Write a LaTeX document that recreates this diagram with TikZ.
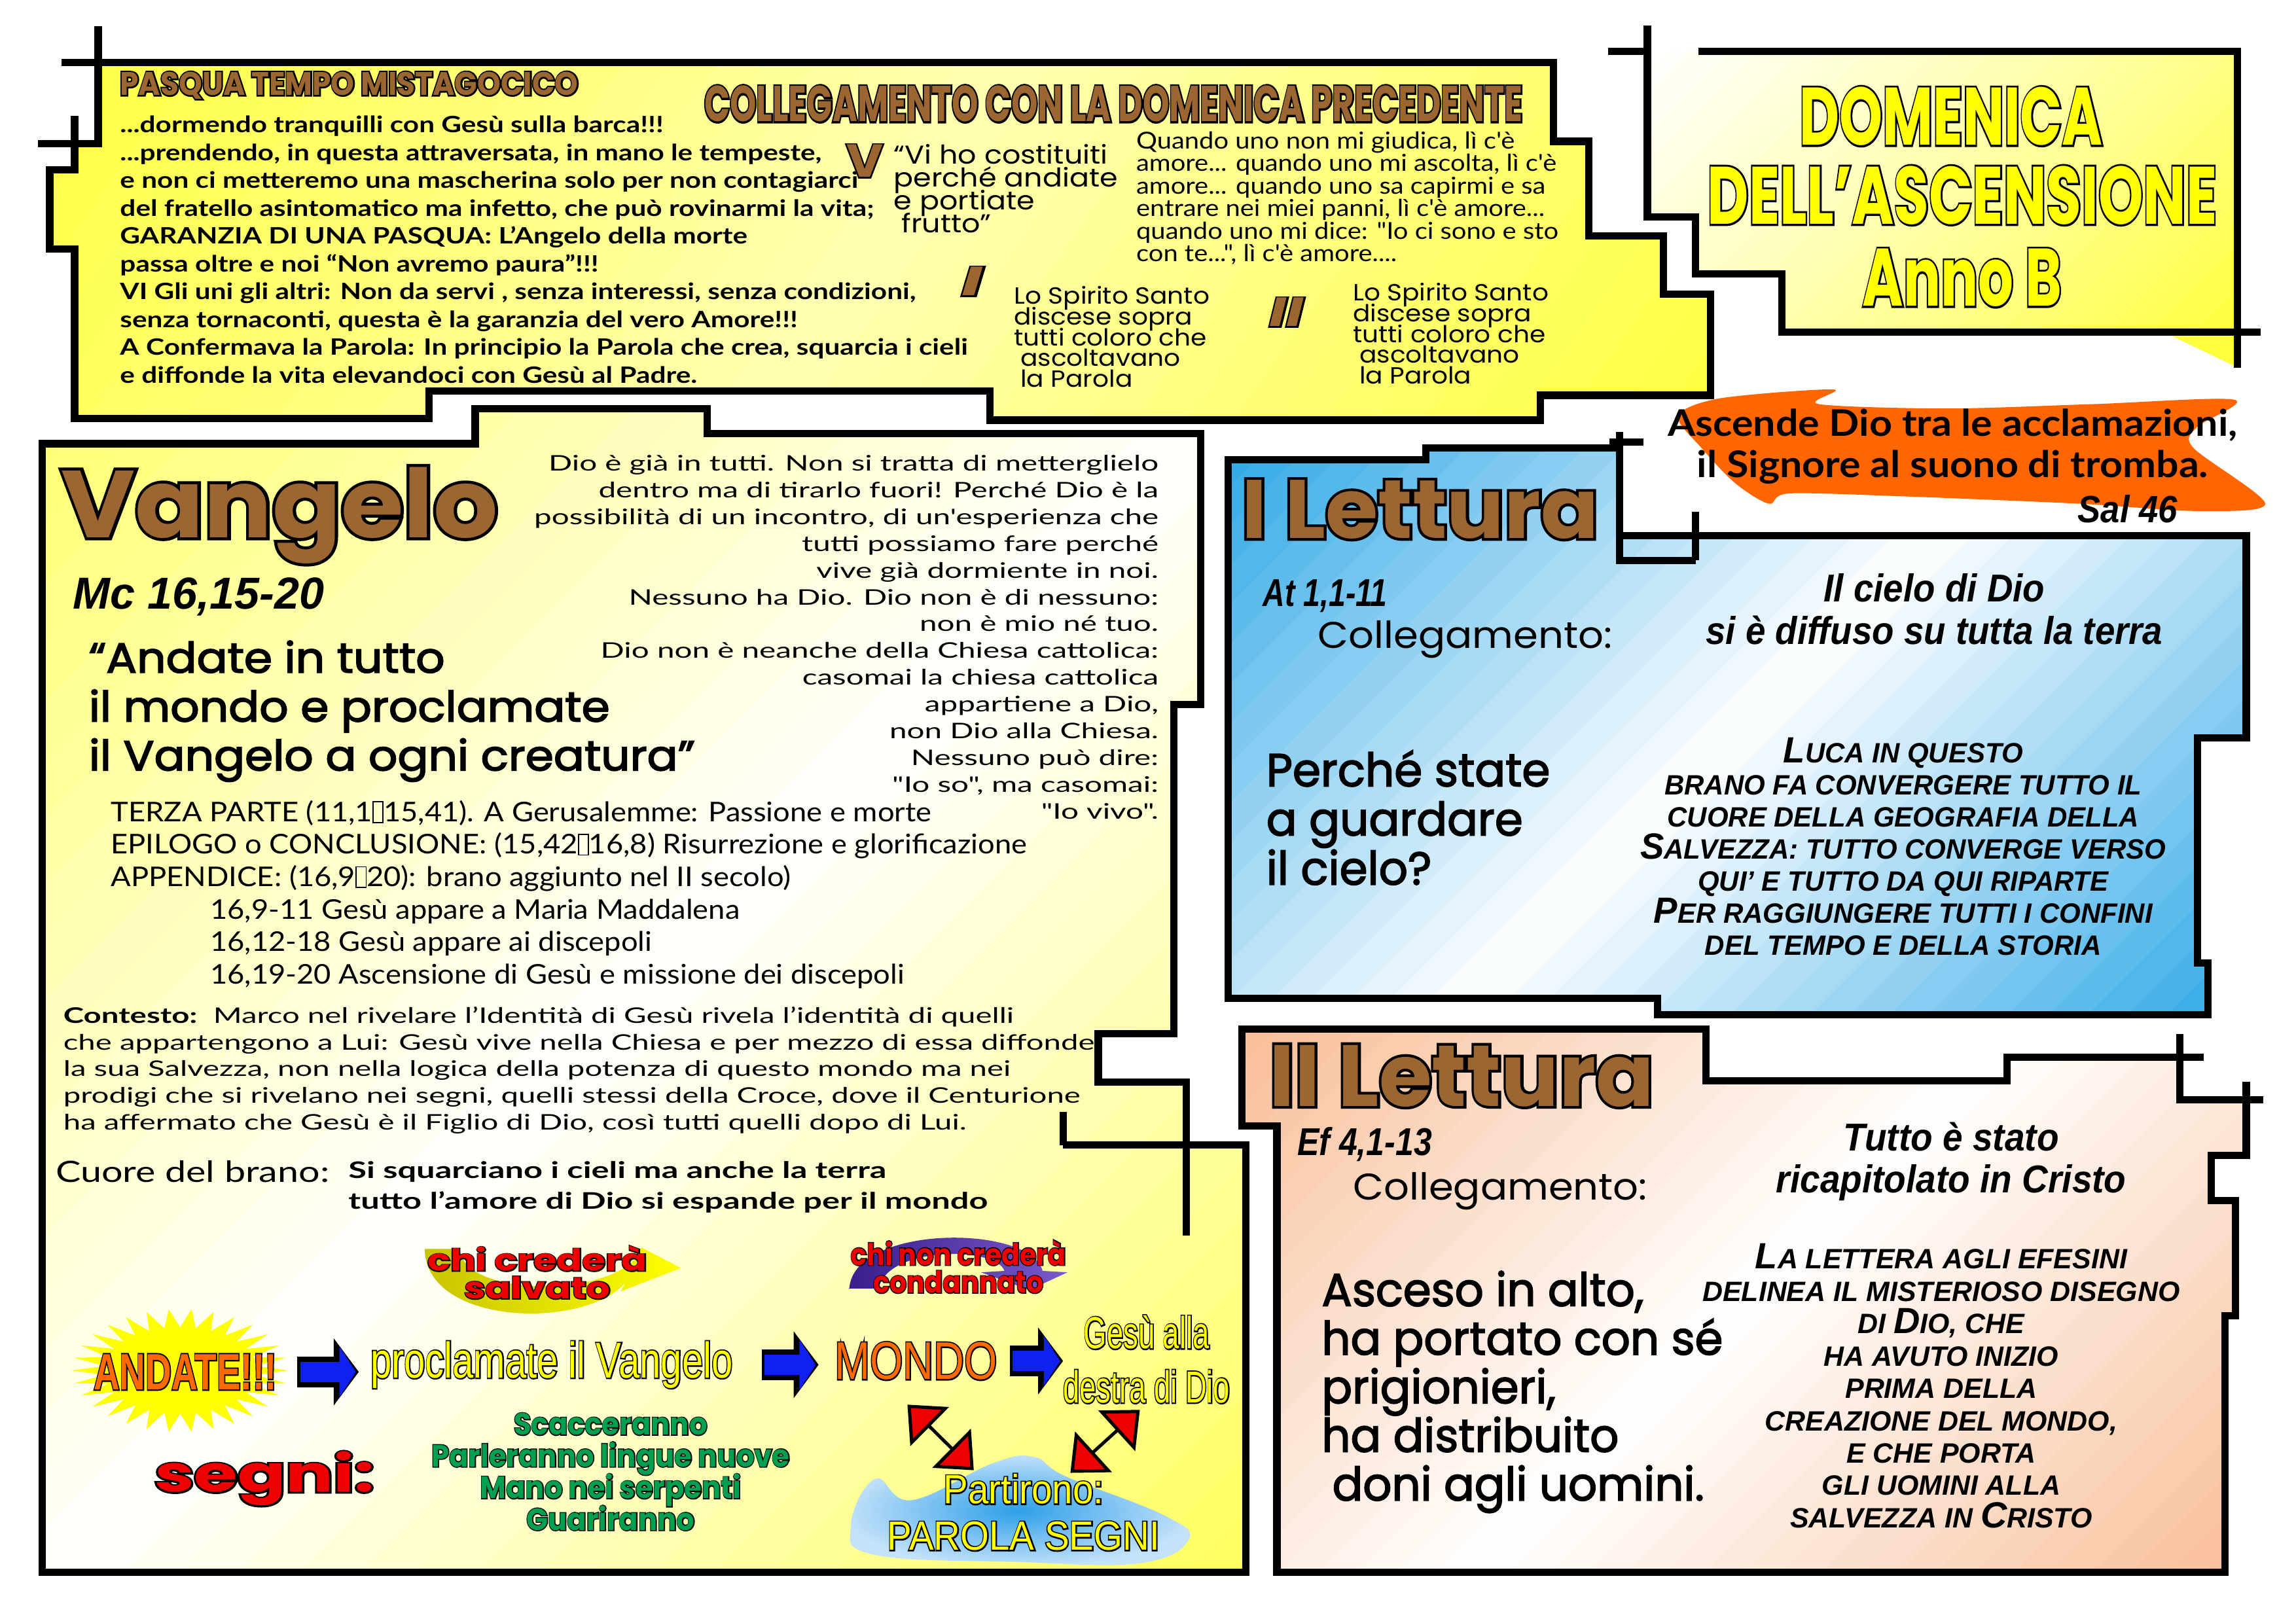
\documentclass[tikz,border=0pt]{standalone}
\usepackage{fontspec}
\usepackage{graphicx}
\usetikzlibrary{arrows.meta}
\setmainfont{Lato}
\newfontfamily\fPop{Poppins}
\newfontfamily\fLato{Lato}
\newfontfamily\fLib{Liberation Sans}
\definecolor{brownH}{HTML}{9C6633}
\definecolor{orangeB}{HTML}{FF6600}
\definecolor{orangeT}{HTML}{FF6A00}
\definecolor{yelT}{HTML}{FFFF00}
\definecolor{redT}{HTML}{EE0000}
\definecolor{greenT}{HTML}{00A050}
\definecolor{blueA}{HTML}{1020F0}
\definecolor{skyB}{HTML}{2FA8E6}
\definecolor{peach}{HTML}{F8BE98}
\definecolor{yelBox}{HTML}{FFFF40}
\definecolor{purpD}{HTML}{3A1E8C}
\definecolor{purpL}{HTML}{7A5ACB}
\definecolor{oliveY}{HTML}{C8C400}
\definecolor{blobC}{HTML}{2E9FE8}
\definecolor{blobO}{HTML}{C4E2FA}
\colorlet{yelMid}{yelBox!40!white}
\colorlet{yelTitleMid}{yelBox!45!white}
\colorlet{yelVA}{yelBox!75!white}
\colorlet{yelVB}{yelBox!85!white}
\colorlet{plainW}{white}
\newlength\U \setlength\U{0.189413mm}
\newlength\fitlen
\newlength\fittarget
\newsavebox\olbox
\newsavebox\fitbox
% outlined text: stroked copy (text render mode 2) under a filled copy
\newcommand\OLT[4][1.2]{\setbox\olbox\hbox{#4}\leavevmode\rlap{\color{#2}\special{pdf:literal direct 2 Tr #1 w}\usebox\olbox\special{pdf:literal direct 0 Tr}}{\color{#3}\usebox\olbox}}
\newcommand\FB[1]{\special{pdf:literal direct 2 Tr 0.4 w}#1\special{pdf:literal direct 0 Tr}}
\newcommand\FitBlk[3]{\setbox\fitbox\hbox{#2}\setlength\fitlen{\wd\fitbox}\setlength\fittarget{#1\U}\pgfmathsetmacro\fitsx{\fittarget/\fitlen}\scalebox{\fitsx}[1]{#3}}
\newcommand\FitOne[2]{\FitBlk{#1}{#2}{#2}}
\newcommand\LinesL[2]{\vtop{\baselineskip=#1\relax\lineskiplimit=-\maxdimen\lineskip=0pt\halign{##\hfil\cr#2\crcr}}}
\newcommand\LinesR[2]{\vtop{\baselineskip=#1\relax\lineskiplimit=-\maxdimen\lineskip=0pt\halign{\hfil##\cr#2\crcr}}}
\newcommand\LinesC[2]{\vtop{\baselineskip=#1\relax\lineskiplimit=-\maxdimen\lineskip=0pt\halign{\hfil##\hfil\cr#2\crcr}}}
\newcommand\BigC[1]{{\fontsize{13.4}{14}\selectfont#1}}
\newcommand\MissGlyph{\raisebox{-0.02em}{\setlength\fboxsep{0pt}\setlength\fboxrule{0.4pt}\fbox{\rule{0pt}{0.72em}\hspace{0.3em}}}}
% diagonal gradient inside a clip path: #1 path, #2-#5 bbox, #6 angle, #7 end colour, #8 middle colour, #9 end colour
\newcommand\GradBox[9]{\begin{scope}\clip #1;
\pgfmathsetmacro\gdx{cos(#6)}\pgfmathsetmacro\gdy{sin(#6)}\pgfmathsetmacro\gL{(#4-#2)*\gdx+(#5-#3)*\gdy}%
\foreach \k in {0,...,39}{\pgfmathsetmacro\ua{\k/40*\gL}\pgfmathsetmacro\ub{(\k+1.3)/40*\gL}\pgfmathsetmacro\uc{(\k+0.5)/40}%
\pgfmathsetmacro\pa{100*(1-2*\uc)}\pgfmathsetmacro\pb{100*(2*\uc-1)}%
\ifdim\uc pt<0.5pt\edef\gcol{#7!\pa!#8}\else\edef\gcol{#9!\pb!#8}\fi
\fill[color=\gcol] ({#2+\ua*\gdx-2000*\gdy},{#3+\ua*\gdy+2000*\gdx}) -- ({#2+\ua*\gdx+2000*\gdy},{#3+\ua*\gdy-2000*\gdx}) -- ({#2+\ub*\gdx+2000*\gdy},{#3+\ub*\gdy-2000*\gdx}) -- ({#2+\ub*\gdx-2000*\gdy},{#3+\ub*\gdy+2000*\gdx}) -- cycle;}
\end{scope}}
\def\PolyTop{(67,42.6) -- (1061,42.6) -- (1061,96.5) -- (1085,96.5) -- (1085,161) -- (1136,161) -- (1136,201) -- (1168,201) -- (1168,270) -- (1052,270) -- (1052,287) -- (676,287) -- (676,267) -- (293,267) -- (293,286) -- (51,286) -- (51,170) -- (34,170) -- (34,116) -- (51,116) -- (51,98) -- (67,98) -- cycle}
\def\PolyTitle{(1125,35) -- (1528,35) -- (1528,227) -- (1217,227) -- (1217,187) -- (1158,187) -- (1158,148) -- (1125,148) -- cycle}
\def\PolyVang{(29,303) -- (324.5,303) -- (324.5,279) -- (483,279) -- (483,296) -- (820,296) -- (820,481) -- (801.5,481) -- (801.5,706) -- (750,706) -- (750,739) -- (810,739) -- (810,782) -- (850.7,782) -- (850.7,1074) -- (29,1074) -- cycle}
\def\PolyLetI{(838.7,314) -- (973.6,314) -- (973.6,306) -- (1106,306) -- (1106,366) -- (1534,366) -- (1534,504) -- (1500.7,504) -- (1500.7,657.6) -- (1508,657.6) -- (1508,693) -- (1132,693) -- (1132,682) -- (838.7,682) -- cycle}
\def\PolyLetII{(848,703) -- (1165,703) -- (1165,738) -- (1370.6,738) -- (1370.6,722) -- (1488.7,722) -- (1488.7,751) -- (1534,751) -- (1534,789) -- (1510,789) -- (1510,820) -- (1526.6,820) -- (1526.6,898.8) -- (1519.5,898.8) -- (1519.5,1074) -- (872,1074) -- (872,769) -- (848,769) -- cycle}
\begin{document}
\begin{tikzpicture}[x=0.189413mm, y=-0.189413mm,
 every node/.style={inner sep=0pt, outer sep=0pt},
 boxline/.style={line width=2.7pt},
 txt/.style={anchor=base west},
 txtr/.style={anchor=base east},
 txtc/.style={anchor=base},
 bk/.style={line width=11.3pt, draw=black, -{Triangle[length=9.2pt,width=24.2pt]}},
 bb/.style={line width=7.5pt, draw=blueA, -{Triangle[length=6pt,width=18.3pt]}},
 ra/.style={draw=black, line width=1.2pt, {Triangle[fill=redT,length=11.5pt,width=20pt]}-{Triangle[fill=redT,length=11.5pt,width=20pt]}}]
\useasboundingbox (0,0) rectangle (1568,1108.5);
\fill[white] (0,0) rectangle (1568,1108.5);

% ---------- boxes
\GradBox{\PolyTop}{34}{42.6}{1168}{287}{35}{yelBox}{yelMid}{yelBox}
\draw[boxline] \PolyTop;
\draw[boxline] (67,18) -- (67,42.6) (42,42.6) -- (67,42.6) (51,79) -- (51,98) (26,98) -- (51,98);

\GradBox{\PolyTitle}{1125}{35}{1528}{227}{45}{plainW}{yelTitleMid}{yelBox}
\fill[yelBox] (1478,227) -- (1528,227) -- (1528,251) -- cycle;
\draw[boxline] (1160,35) -- (1528,35) -- (1528,251) (1544,227) -- (1217,227) -- (1217,187) -- (1158,187) -- (1158,148) -- (1125,148) -- (1125,17.5) (1098,35) -- (1125,35);

\GradBox{\PolyVang}{29}{279}{850.7}{1074}{45}{yelVA}{plainW}{yelVB}
\draw[boxline] \PolyVang;
\draw[boxline] (726,782) -- (810,782) (810,782) -- (810,844) (726,759.5) -- (726,782);

\GradBox{\PolyLetI}{838.7}{306}{1534}{693}{45}{skyB}{plainW}{skyB}
\draw[boxline] \PolyLetI;
\draw[boxline] (1106,295) -- (1106,382.7) -- (1158,382.7) (1158,349.6) -- (1158,382.7) (1099,301.8) -- (1122.4,301.8);

\GradBox{\PolyLetII}{848}{703}{1534}{1074}{45}{peach}{plainW}{peach}
\draw[boxline] \PolyLetII;
\draw[boxline] (1488.7,722) -- (1505,722) (1488.7,706) -- (1488.7,722) (1534,751) -- (1545.5,751) (1534,739) -- (1534,751);

% ---------- shapes
\fill[orangeB] plot[smooth cycle, tension=0.5] coordinates {(1146,284) (1175,272) (1252,266) (1242,276) (1330,279) (1430,276) (1526,273) (1500,292) (1498,306) (1547,344) (1500,349) (1420,344) (1300,339) (1222,337) (1208,344) (1185,330) (1162,306)};
\shade[inner color=blobC, outer color=blobO] plot[smooth cycle, tension=0.7] coordinates {(597.7,1010) (622.7,1024.6) (678,999.4) (706,995) (728,1008.4) (795,1035) (811.8,1051.5) (778,1067.7) (695,1066.8) (597.7,1062) (581,1042.5)};
\fill[yelT] (197,936) \foreach \i in {1,...,59}{ -- ({123+74*(1-0.3*mod(\i,2))*cos(\i*6)},{936+42*(1-0.3*mod(\i,2))*sin(\i*6)}) } -- cycle;
\shade[left color=oliveY, right color=yelT] (290,853) .. controls (291,906) and (400,908) .. (427,876) -- (424,882) -- (465,866) -- (438,852) -- (435,858) .. controls (415,886) and (316,886) .. (314,853) -- cycle;
\shade[left color=purpD, right color=purpL] (580,880) .. controls (583,836) and (704,836) .. (712,868) -- (729,869) -- (703,881) -- (670,869) -- (686,868) .. controls (680,851) and (606,851) .. (600,880) -- cycle;

% ---------- top box texts
\node[txt, font=\fPop\bfseries\fontsize{12}{14}\selectfont] (pasqua) at (82,65) {\FitOne{313}{\OLT[1.1]{black}{brownH}{PASQUA TEMPO MISTAGOCICO}}};
\node[txt, font=\fLato\bfseries\fontsize{8.3}{10}\selectfont] (topbody) at (82,90.7) {\FitBlk{371}{...dormendo tranquilli con Gesù sulla barca!!!}{\LinesL{19\U}{...dormendo tranquilli con Gesù sulla barca!!!\cr
...prendendo, in questa attraversata, in mano le tempeste,\cr
e non ci metteremo una mascherina solo per non contagiarci\cr
del fratello asintomatico ma infetto, che può rovinarmi la vita;\cr
GARANZIA DI UNA PASQUA: L’Angelo della morte\cr
passa oltre e noi “Non avremo paura”!!!\cr
VI Gli uni gli altri: Non da servi , senza interessi, senza condizioni,\cr
senza tornaconti, questa è la garanzia del vero Amore!!!\cr
A Confermava la Parola: In principio la Parola che crea, squarcia i cieli\cr
e diffonde la vita elevandoci con Gesù al Padre.}}};
\node[txt, font=\fPop\bfseries\fontsize{18.5}{20}\selectfont] (colleg) at (481,83) {\FitOne{559}{\OLT[1.4]{black}{brownH}{COLLEGAMENTO CON LA DOMENICA PRECEDENTE}}};
\node[txt, font=\fPop\bfseries\fontsize{17}{18}\selectfont] (vroman) at (578,121) {\FitOne{25}{\OLT[1.0]{black}{brownH}{V}}};
\node[txt, font=\fPop\bfseries\itshape\fontsize{15}{16}\selectfont] (iroman) at (657,202) {\FitOne{14}{\OLT[1.0]{black}{brownH}{I}}};
\node[txt, font=\fPop\bfseries\itshape\fontsize{15}{16}\selectfont] (iiroman) at (867,223) {\FitOne{23}{\OLT[1.0]{black}{brownH}{II}}};
\node[txt, font=\fPop\fontsize{9.5}{10}\selectfont] (viho) at (610.5,112) {\FitBlk{146}{“Vi ho costituiti}{\LinesL{15.6\U}{“Vi ho costituiti\cr perché andiate\cr e portiate\cr\kern2.5pt frutto”}}};
\node[txt, font=\fLato\fontsize{8.6}{10}\selectfont] (quando) at (776,101.6) {\FitBlk{287}{amore... quando uno mi ascolta, lì c'è}{\LinesL{15.4\U}{Quando uno non mi giudica, lì c'è\cr
amore... quando uno mi ascolta, lì c'è\cr
amore... quando uno sa capirmi e sa\cr
entrare nei miei panni, lì c'è amore...\cr
quando uno mi dice: "Io ci sono e sto\cr
con te...", lì c'è amore....}}};
\node[txt, font=\fPop\fontsize{8.6}{9}\selectfont] (spir1) at (692.5,207.7) {\FitBlk{131.5}{tutti coloro che}{\LinesL{14.2\U}{Lo Spirito Santo\cr discese sopra\cr tutti coloro che\cr\kern2.2pt ascoltavano\cr\kern2.2pt la Parola}}};
\node[txt, font=\fPop\fontsize{8.6}{9}\selectfont] (spir2) at (924,205.4) {\FitBlk{131.5}{tutti coloro che}{\LinesL{14.2\U}{Lo Spirito Santo\cr discese sopra\cr tutti coloro che\cr\kern2.2pt ascoltavano\cr\kern2.2pt la Parola}}};

% ---------- title texts
\node[txtc, font=\fPop\bfseries\fontsize{30}{32}\selectfont] (dom) at (1332.5,99) {\FitOne{207}{\OLT[1.5]{black}{yelT}{DOMENICA}}};
\node[txtc, font=\fPop\bfseries\fontsize{30}{32}\selectfont] (dell) at (1340,153) {\FitOne{348}{\OLT[1.5]{black}{yelT}{DELL’ASCENSIONE}}};
\node[txtc, font=\fPop\bfseries\fontsize{30}{32}\selectfont] (anno) at (1340,209) {\FitOne{136}{\OLT[1.5]{black}{yelT}{Anno B}}};
\node[txtc, font=\fLato\bfseries\fontsize{13.5}{14}\selectfont] (ascende) at (1333.5,298) {\FitBlk{389}{Ascende Dio tra le acclamazioni,}{\LinesC{28\U}{Ascende Dio tra le acclamazioni,\cr il Signore al suono di tromba.}}};
\node[txt, font=\fLib\bfseries\itshape\fontsize{14}{15}\selectfont] (sal) at (1419,357) {\FitOne{68}{Sal 46}};

% ---------- Vangelo texts
\node[txt, font=\fPop\bfseries\fontsize{35}{36}\selectfont] (vangelo) at (42,367) {\FitOne{298}{\OLT[2.2]{black}{brownH}{Vangelo}}};
\node[txt, font=\fLib\bfseries\itshape\fontsize{16.5}{18}\selectfont] (mc) at (50,415.7) {\FitOne{171.5}{Mc 16,15-20}};
\node[txt, font=\fPop\fontsize{15.5}{16}\selectfont] (andate) at (60.7,459.4) {\FitBlk{414}{il Vangelo a ogni creatura”}{\FB{\LinesL{33.4\U}{“Andate in tutto\cr il mondo e proclamate\cr il Vangelo a ogni creatura”}}}};
\node[txtr, font=\fLato\fontsize{7.9}{10}\selectfont] (dio) at (791.2,321.7) {\FitBlk{416.6}{Dio è già in tutti. Non si tratta di metterglielo}{\LinesR{18.27\U}{Dio è già in tutti. Non si tratta di metterglielo\cr
dentro ma di tirarlo fuori! Perché Dio è la\cr
possibilità di un incontro, di un'esperienza che\cr
tutti possiamo fare perché\cr
vive già dormiente in noi.\cr
Nessuno ha Dio. Dio non è di nessuno:\cr
non è mio né tuo.\cr
Dio non è neanche della Chiesa cattolica:\cr
casomai la chiesa cattolica\cr
appartiene a Dio,\cr
non Dio alla Chiesa.\cr
Nessuno può dire:\cr
"Io so", ma casomai:\cr
"Io vivo".}}};
\node[txt, font=\fLato\fontsize{10}{11}\selectfont] (terza) at (75.8,561) {\FitBlk{625.7}{EPILOGO o CONCLUSIONE: (15,42\MissGlyph16,8) Risurrezione e glorificazione}{\LinesL{22.2\U}{TERZA PARTE (11,1\MissGlyph15,41). A Gerusalemme: Passione e morte\cr
EPILOGO o CONCLUSIONE: (15,42\MissGlyph16,8) Risurrezione e glorificazione\cr
APPENDICE: (16,9\MissGlyph20): brano aggiunto nel II secolo)}}};
\node[txt, font=\fLato\fontsize{10}{11}\selectfont] (pericopi) at (143.6,627.6) {\FitBlk{625.7}{EPILOGO o CONCLUSIONE: (15,42\MissGlyph16,8) Risurrezione e glorificazione}{\LinesL{22.2\U}{16,9-11 Gesù appare a Maria Maddalena\cr
16,12-18 Gesù appare ai discepoli\cr
16,19-20 Ascensione di Gesù e missione dei discepoli}}};
\node[txt, font=\fLato\fontsize{7.9}{10}\selectfont] (contesto) at (43.3,698.8) {\FitBlk{704.2}{che appartengono a Lui: Gesù vive nella Chiesa e per mezzo di essa diffonde}{\LinesL{18.2\U}{{\bfseries Contesto:}\ \ Marco nel rivelare l’Identità di Gesù rivela l’identità di quelli\cr
che appartengono a Lui: Gesù vive nella Chiesa e per mezzo di essa diffonde\cr
la sua Salvezza, non nella logica della potenza di questo mondo ma nei\cr
prodigi che si rivelano nei segni, quelli stessi della Croce, dove il Centurione\cr
ha affermato che Gesù è il Figlio di Dio, così tutti quelli dopo di Lui.}}};
\node[txt, font=\fLato\fontsize{10.8}{12}\selectfont] (cuore) at (38,807.6) {\FitOne{187}{Cuore del brano:}};
\node[txt, font=\fLato\bfseries\fontsize{8.4}{10}\selectfont] (squarc) at (238,804.7) {\FitBlk{436.6}{tutto l’amore di Dio si espande per il mondo}{\LinesL{21.3\U}{Si squarciano i cieli ma anche la terra\cr tutto l’amore di Dio si espande per il mondo}}};

% ---------- diagram texts
\node[txtc, font=\fPop\bfseries\fontsize{11}{12}\selectfont] (chicred) at (367,868) {\FitBlk{150}{chi crederà}{\LinesC{19\U}{\OLT[0.7]{black}{redT}{chi crederà}\cr\OLT[0.7]{black}{redT}{salvato}}}};
\node[txtc, font=\fPop\bfseries\fontsize{11}{12}\selectfont] (chinon) at (654.5,864) {\FitBlk{147}{chi non crederà}{\LinesC{19\U}{\OLT[0.7]{black}{redT}{chi non crederà}\cr\OLT[0.7]{black}{redT}{condannato}}}};
\node[txtc, font=\fLib\bfseries\fontsize{18.8}{20}\selectfont] (andateS) at (126.5,949) {\FitOne{125}{\OLT[1.0]{black}{orangeT}{ANDATE!!!}}};
\node[txtc, font=\fLib\fontsize{18.5}{20}\selectfont] (procl) at (376.7,941) {\FitOne{247.4}{\OLT[1.0]{black}{yelT}{proclamate il Vangelo}}};
\node[txtc, font=\fLib\fontsize{19.5}{20}\selectfont] (mondo) at (625.5,942) {\FitOne{111}{\OLT[1.0]{black}{orangeT}{MONDO}}};
\node[txtc, font=\fLib\fontsize{16.5}{18}\selectfont] (gesu) at (783,921) {\FitBlk{114}{destra di Dio}{\LinesC{37\U}{\OLT[1.0]{black}{yelT}{Gesù alla}\cr\OLT[1.0]{black}{yelT}{destra di Dio}}}};
\node[txt, font=\fPop\bfseries\fontsize{18.6}{20}\selectfont] (segni) at (105.6,1019) {\FitOne{150}{\OLT[1.2]{black}{redT}{segni:}}};
\node[txtc, font=\fPop\bfseries\fontsize{11.3}{12}\selectfont] (signs) at (417,980) {\FitBlk{244.6}{Parleranno lingue nuove}{\LinesC{21.7\U}{\OLT[0.7]{black}{greenT}{Scacceranno}\cr\OLT[0.7]{black}{greenT}{Parleranno lingue nuove}\cr\OLT[0.7]{black}{greenT}{Mano nei serpenti}\cr\OLT[0.7]{black}{greenT}{Guariranno}}}};
\node[txtc, font=\fLib\fontsize{15}{16}\selectfont] (part) at (699,1027) {\FitBlk{186}{PAROLA SEGNI}{\LinesC{31.7\U}{\OLT[1.0]{black}{yelT}{Partirono:}\cr\OLT[1.0]{black}{yelT}{PAROLA SEGNI}}}};

% ---------- I Lettura texts
\node[txt, font=\fPop\bfseries\fontsize{30.5}{32}\selectfont] (lett1) at (848,367.5) {\FitOne{243.7}{\OLT[2.0]{black}{brownH}{I Lettura}}};
\node[txt, font=\fLib\bfseries\itshape\fontsize{14.3}{16}\selectfont] (atref) at (862.5,414) {\FitOne{85}{At 1,1-11}};
\node[txt, font=\fPop\fontsize{13.7}{15}\selectfont] (coll1) at (900,442.8) {\FitOne{201}{Collegamento:}};
\node[txtc, font=\fLib\bfseries\itshape\fontsize{14.3}{16}\selectfont] (cielo) at (1321,411) {\FitBlk{312}{si è diffuso su tutta la terra}{\LinesC{29\U}{Il cielo di Dio\cr si è diffuso su tutta la terra}}};
\node[txt, font=\fPop\fontsize{17}{18}\selectfont] (perche) at (864.8,537) {\FitBlk{193.8}{Perché state}{\FB{\LinesL{33.6\U}{Perché state\cr a guardare\cr il cielo?}}}};
\node[txtc, font=\fLib\bfseries\itshape\fontsize{10.3}{11}\selectfont] (luca) at (1299.7,520.8) {\FitBlk{359}{\BigC{S}ALVEZZA: TUTTO CONVERGE VERSO}{\LinesC{21.9\U}{\BigC{L}UCA IN QUESTO\cr
BRANO FA CONVERGERE TUTTO IL\cr
CUORE DELLA GEOGRAFIA DELLA\cr
\BigC{S}ALVEZZA: TUTTO CONVERGE VERSO\cr
QUI’ E TUTTO DA QUI RIPARTE\cr
\BigC{P}ER RAGGIUNGERE TUTTI I CONFINI\cr
DEL TEMPO E DELLA STORIA}}};

% ---------- II Lettura texts
\node[txt, font=\fPop\bfseries\fontsize{32}{34}\selectfont] (lett2) at (867,755.4) {\FitOne{262.5}{\OLT[2.0]{black}{brownH}{II Lettura}}};
\node[txt, font=\fLib\bfseries\itshape\fontsize{14.3}{16}\selectfont] (efref) at (886,789) {\FitOne{92}{Ef 4,1-13}};
\node[txt, font=\fPop\fontsize{13.7}{15}\selectfont] (coll2) at (924,819.7) {\FitOne{201}{Collegamento:}};
\node[txtc, font=\fLib\bfseries\itshape\fontsize{14.3}{16}\selectfont] (tutto) at (1332.5,786.2) {\FitBlk{239}{ricapitolato in Cristo}{\LinesC{28.2\U}{Tutto è stato\cr ricapitolato in Cristo}}};
\node[txt, font=\fPop\fontsize{17}{18}\selectfont] (asceso) at (902.6,892) {\FitBlk{274}{ha portato con sé}{\FB{\LinesL{33.2\U}{Asceso in alto,\cr ha portato con sé\cr prigionieri,\cr ha distribuito\cr\kern4pt doni agli uomini.}}}};
\node[txtc, font=\fLib\bfseries\itshape\fontsize{10.3}{11}\selectfont] (efesini) at (1325.7,866.6) {\FitBlk{326}{DELINEA IL MISTERIOSO DISEGNO}{\LinesC{22.1\U}{\BigC{L}A LETTERA AGLI EFESINI\cr
DELINEA IL MISTERIOSO DISEGNO\cr
DI \BigC{D}IO, CHE\cr
HA AVUTO INIZIO\cr
PRIMA DELLA\cr
CREAZIONE DEL MONDO,\cr
E CHE PORTA\cr
GLI UOMINI ALLA\cr
SALVEZZA IN \BigC{C}RISTO}}};

% ---------- connectors
\draw[bk, shorten <=7.5pt, shorten >=4.3pt] (andateS.east) -- (andateS.east -| procl.west);
\draw[bb, shorten <=8.6pt, shorten >=5.4pt] (andateS.east) -- (andateS.east -| procl.west);
\draw[bk, shorten <=10.6pt, shorten >=5.9pt] (procl.east) -- (procl.east -| mondo.west);
\draw[bb, shorten <=11.6pt, shorten >=7pt] (procl.east) -- (procl.east -| mondo.west);
\draw[bk, shorten <=4.6pt] (mondo.east) -- (mondo.east -| gesu.west);
\draw[bb, shorten <=5.7pt, shorten >=1.1pt] (mondo.east) -- (mondo.east -| gesu.west);
\draw[ra] ([shift={(-5.8,17)}]mondo.south) -- ([shift={(-34,-2.7)}]part.north);
\draw[ra] ([shift={(-4.6,4.6)}]gesu.south) -- ([shift={(32,-0.9)}]part.north);
\end{tikzpicture}
\end{document}
